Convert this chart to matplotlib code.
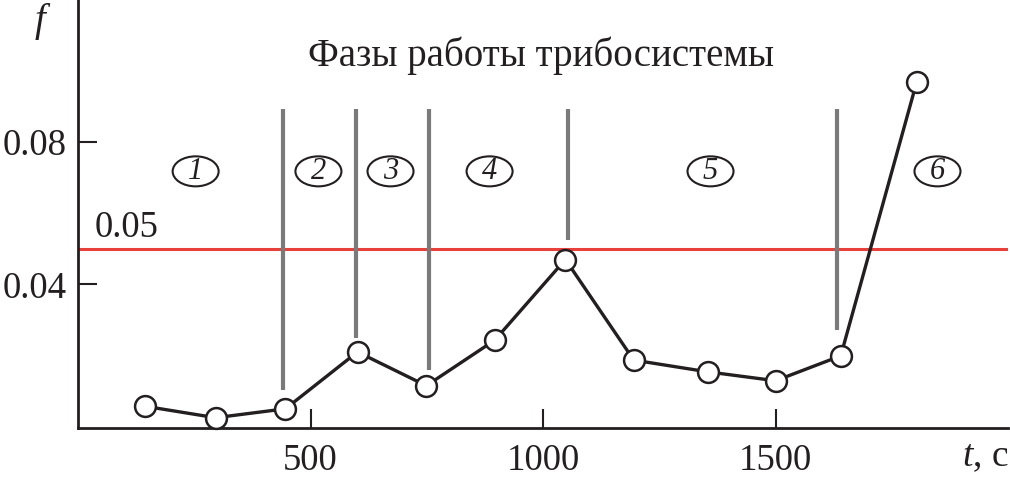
import matplotlib
matplotlib.use("Agg")
import matplotlib.pyplot as plt
from matplotlib.patches import Ellipse

plt.rcParams['font.family'] = ['Liberation Serif', 'DejaVu Serif']
plt.rcParams['mathtext.fontset'] = 'custom'
plt.rcParams['mathtext.it'] = 'Liberation Serif:italic'
plt.rcParams['mathtext.rm'] = 'Liberation Serif'

t = [145, 296, 446, 601, 749, 896, 1048, 1195, 1354, 1500, 1640, 1803]
f = [0.0057, 0.0025, 0.0050, 0.0210, 0.0115, 0.0243, 0.0470, 0.0187, 0.0154, 0.0129, 0.0199, 0.0968]

phase_x = [440, 597, 754, 1053, 1631]
phase_bottom = [0.0103, 0.0249, 0.0159, 0.0524, 0.0271]
phase_top = 0.0894

phase_labels = ['1', '2', '3', '4', '5', '6']
phase_label_x = [253, 517, 672, 885, 1360, 1848]
phase_label_y = 0.0718

threshold = 0.05
title = 'Фазы работы трибосистемы'

W, H = 1010, 480
fig = plt.figure(figsize=(W / 100, H / 100), dpi=100)
ax_rect = [0.0772, 0.1083, 0.921, 0.8917]
ax = fig.add_axes(ax_rect)
xlim = (0, 2000)
ylim = (-0.0004, 0.12)
ax.set_xlim(*xlim)
ax.set_ylim(*ylim)

for s in ['top', 'right']:
    ax.spines[s].set_visible(False)
for s in ['left', 'bottom']:
    ax.spines[s].set_linewidth(2.0)
    ax.spines[s].set_color('#231f20')

ax.set_xticks([500, 1000, 1500])
ax.set_xticklabels(['500', '1000', '1500'])
ax.set_yticks([0.04, 0.08])
ax.set_yticklabels(['0.04', '0.08'])
ax.tick_params(direction='in', length=14, width=1.5, labelsize=26.5, colors='#231f20')
ax.tick_params(axis='x', pad=11)
ax.tick_params(axis='y', pad=8)

ax.axhline(threshold, color='#e8413c', lw=2.2, zorder=2)
ax.text(104, threshold + 0.0012, '0.05', fontsize=26.5, ha='center', va='bottom', color='#231f20')

for x, b in zip(phase_x, phase_bottom):
    ax.plot([x, x], [b, phase_top], color='#7a7a7a', lw=3.0, solid_capstyle='butt', zorder=2)

ax.plot(t, f, color='#231f20', lw=2.4, marker='o', markersize=15,
        markerfacecolor='white', markeredgecolor='#231f20', markeredgewidth=1.8, zorder=3, clip_on=False)

# ellipse size in pixels converted to data units
px_per_x = ax_rect[2] * W / (xlim[1] - xlim[0])
px_per_y = ax_rect[3] * H / (ylim[1] - ylim[0])
ew, eh = 46 / px_per_x, 30 / px_per_y
for lab, x in zip(phase_labels, phase_label_x):
    ax.add_patch(Ellipse((x, phase_label_y), ew, eh, fc='white', ec='#231f20', lw=1.5, zorder=4))
    ax.text(x, phase_label_y, lab, fontsize=22, style='italic', ha='center', va='center',
            color='#231f20', zorder=5)

ax.text(995, 0.1043, title, fontsize=28, ha='center', va='center', color='#231f20')

fig.text(40 / W, 1 - 22 / H, 'f', fontsize=28, style='italic', ha='center', va='center', color='#231f20')
fig.text(985 / W, 1 - 457 / H, r'$t$, с', fontsize=27, ha='center', va='center', color='#231f20')

fig.savefig('out.png', dpi=100)
